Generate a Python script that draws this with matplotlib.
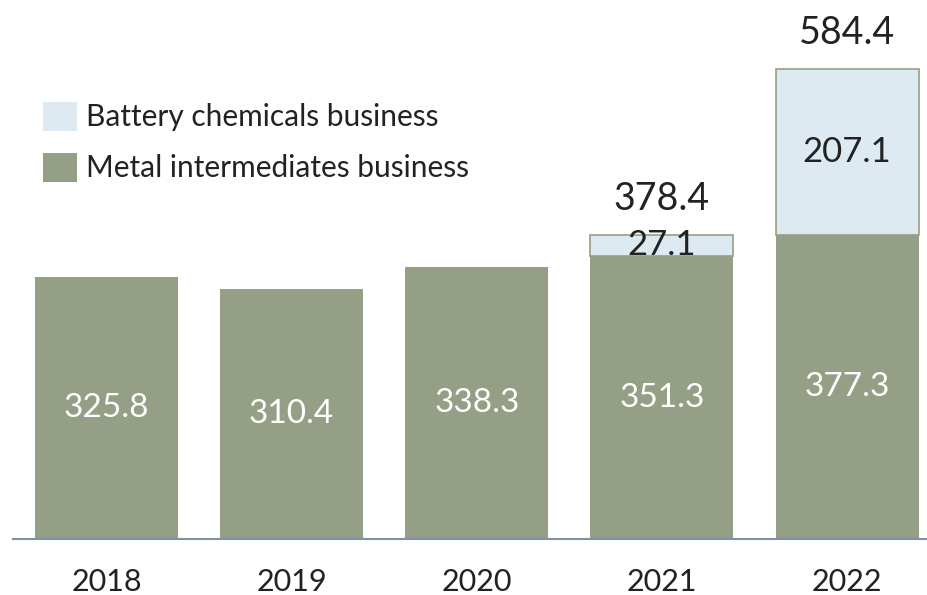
import numpy as np
import matplotlib.pyplot as plt
from matplotlib.patches import Patch

plt.rcParams['font.family'] = ['Lato', 'DejaVu Sans']

years = ['2018', '2019', '2020', '2021', '2022']
metal = [325.8, 310.4, 338.3, 351.3, 377.3]
battery = [0, 0, 0, 27.1, 207.1]
totals = [None, None, None, 378.4, 584.4]

metal_color = '#949f86'
battery_color = '#deeaf1'
text_color = '#222222'

fig = plt.figure(figsize=(9.28, 5.95), dpi=100)
ax = fig.add_axes([13 / 928, 56 / 595, 1 - 13 / 928, 539 / 595])

x = np.arange(len(years))
w = 0.772
metal = np.array(metal)
battery = np.array(battery)

ax.bar(x, metal, width=w, color=metal_color)
mask = battery > 0
ax.bar(x[mask], battery[mask], bottom=metal[mask], width=w, color=battery_color,
       edgecolor=metal_color, linewidth=1.2)

for i in range(len(years)):
    ax.text(x[i], metal[i] / 2, f'{metal[i]:.1f}', ha='center', va='center',
            color='white', fontsize=24)
    if battery[i] > 0:
        ax.text(x[i], metal[i] + battery[i] / 2, f'{battery[i]:.1f}', ha='center',
                va='center', color=text_color, fontsize=25)
    if totals[i] is not None:
        ax.annotate(f'{totals[i]:.1f}', (x[i], totals[i]), xytext=(0, 13),
                    textcoords='offset points', ha='center', va='bottom',
                    color=text_color, fontsize=27)

ax.set_xlim(-0.505, 4.437)
ax.set_ylim(0, 670)
ax.set_xticks(x)
ax.set_xticklabels(years, fontsize=22, color=text_color)
ax.tick_params(axis='x', length=0, pad=21)
ax.set_yticks([])
for s in ['top', 'right', 'left']:
    ax.spines[s].set_visible(False)
ax.spines['bottom'].set_color('#7f92a5')
ax.spines['bottom'].set_linewidth(1.5)

handles = [Patch(facecolor=battery_color, edgecolor='none'),
           Patch(facecolor=metal_color, edgecolor='none')]
fig.legend(handles, ['Battery chemicals business', 'Metal intermediates business'],
           loc='upper left', bbox_to_anchor=(16 / 928, 1 - 75 / 595), frameon=False,
           fontsize=21.5, handlelength=1.15, handleheight=1.1, handletextpad=0.3,
           labelspacing=0.72, labelcolor=text_color)

fig.savefig('out.png', dpi=100)
